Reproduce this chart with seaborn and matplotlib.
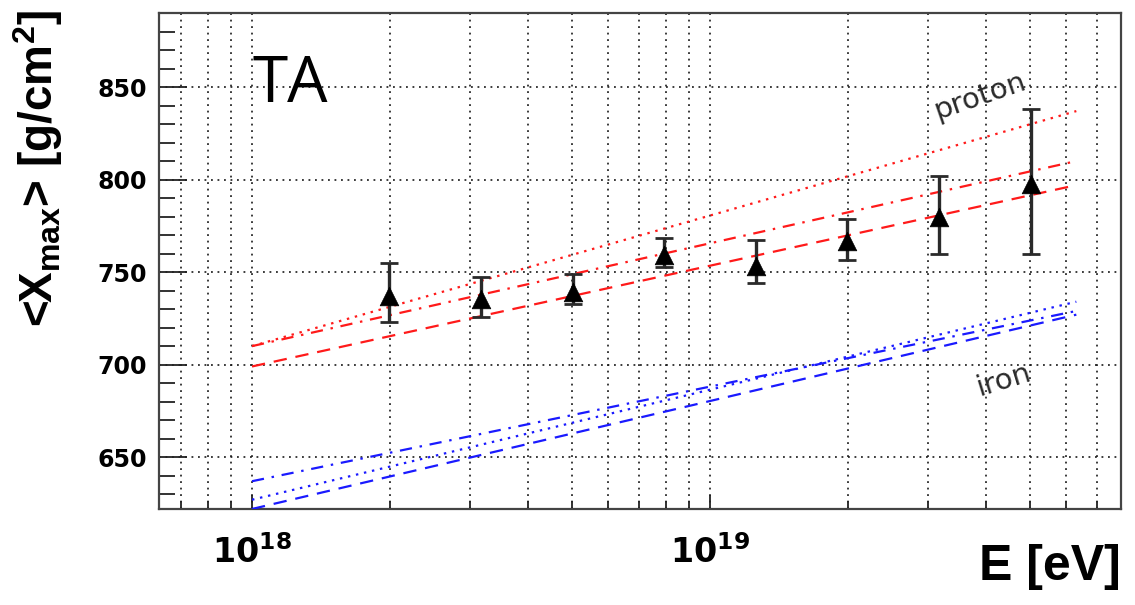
import numpy as np
import pandas as pd
import seaborn as sns
import matplotlib
matplotlib.use("Agg")
import matplotlib.pyplot as plt
from matplotlib.ticker import LogLocator, MultipleLocator, NullFormatter, FixedLocator

# ---- data ----
log_e = [18.3, 18.5, 18.7, 18.9, 19.1, 19.3, 19.5, 19.7]
xmax_mean = [737.0, 735.5, 739.0, 759.0, 753.5, 767.0, 780.0, 797.5]
xmax_low = [723.0, 726.0, 732.5, 753.0, 744.0, 756.5, 760.0, 760.0]
xmax_high = [755.0, 747.5, 749.0, 768.5, 767.5, 778.5, 802.0, 838.0]

model_log_e = [18.0, 19.8]
proton_dotted = [710.0, 837.0]
proton_dashdot = [710.0, 810.0]
proton_dashed = [699.0, 797.0]
iron_dotted = [627.0, 734.0]
iron_dashdot = [637.0, 729.0]
iron_dashed = [622.0, 727.0]

y_major_ticks = [650, 700, 750, 800, 850]
x_major_ticks = [1e18, 1e19]
x_tick_labels = [r"$\mathbf{10^{18}}$", r"$\mathbf{10^{19}}$"]

# ---- figure ----
sns.set_style("white")
plt.rcParams["font.family"] = ["DejaVu Sans"]
plt.rcParams["mathtext.fontset"] = "custom"
plt.rcParams["mathtext.rm"] = "Liberation Sans"
plt.rcParams["mathtext.bf"] = "Liberation Sans:bold"
plt.rcParams["mathtext.default"] = "bf"
plt.rcParams["text.color"] = "black"

fig = plt.figure(figsize=(11.35, 6.05), dpi=100)
ax = fig.add_axes([0.1405, 0.1587, 0.8472, 0.8198])
ax.set_xscale("log")

energy = [10 ** v for v in log_e]
model_energy = [10 ** v for v in model_log_e]

ls_dotted = (0, (1.1, 2.6))
ls_dashdot = (0, (5.5, 3.5, 1.1, 3.5))
ls_dashed = (0, (6, 4))
models = [
    (proton_dotted, "#ff1a1a", ls_dotted),
    (proton_dashdot, "#ff1a1a", ls_dashdot),
    (proton_dashed, "#ff1a1a", ls_dashed),
    (iron_dotted, "#1a1aff", ls_dotted),
    (iron_dashdot, "#1a1aff", ls_dashdot),
    (iron_dashed, "#1a1aff", ls_dashed),
]
for vals, col, ls in models:
    sns.lineplot(x=model_energy, y=vals, ax=ax, color=col, linestyle=ls,
                 linewidth=1.6, zorder=3)

mean = np.array(xmax_mean)
yerr = [mean - np.array(xmax_low), np.array(xmax_high) - mean]
ax.errorbar(energy, mean, yerr=yerr, fmt="none", ecolor="#2a2a2a",
            elinewidth=2.4, capsize=6.5, capthick=2.0, zorder=4)
sns.scatterplot(x=energy, y=xmax_mean, ax=ax, marker="^", s=180,
                color="black", edgecolor="black", linewidth=0.5, zorder=5)

# ---- axes ----
ax.set_xlim(6.28e17, 7.9e19)
ax.set_ylim(622, 890)

ax.xaxis.set_major_locator(FixedLocator(x_major_ticks))
ax.set_xticklabels(x_tick_labels)
ax.xaxis.set_minor_locator(LogLocator(base=10, subs=np.arange(2, 10), numticks=20))
ax.xaxis.set_minor_formatter(NullFormatter())
ax.yaxis.set_major_locator(FixedLocator(y_major_ticks))
ax.yaxis.set_minor_locator(MultipleLocator(10))

ax.grid(True, which="both", axis="x", color="#1a1a1a", linestyle=(0, (1.1, 2.8)), linewidth=1.2)
ax.grid(True, which="major", axis="y", color="#1a1a1a", linestyle=(0, (1.1, 2.8)), linewidth=1.2)
ax.set_axisbelow(True)

ax.tick_params(axis="both", which="both", direction="in", top=False, right=False,
               left=True, bottom=True, color="#222222", width=1.3,
               labelcolor="black")
ax.tick_params(axis="y", which="major", length=20, pad=9, labelsize=17)
ax.tick_params(axis="y", which="minor", length=11.5)
ax.tick_params(axis="x", which="major", length=10, pad=19, labelsize=24)
ax.tick_params(axis="x", which="minor", length=5.5)
for lab in ax.get_yticklabels():
    lab.set_fontweight("bold")
for lab in ax.get_xticklabels():
    lab.set_math_fontfamily("dejavusans")

for sp in ax.spines.values():
    sp.set_linewidth(1.6)
    sp.set_color("#444444")

ax.set_ylabel(r"<X$_{max}$> [g/cm$^{2}$]", fontsize=33, fontweight="bold",
              family="Liberation Sans", color="black", loc="top")
ax.yaxis.set_label_coords(-0.098, 1.006)
ax.set_xlabel("E [eV]", fontsize=36, fontweight="bold", family="Liberation Sans",
              color="black", loc="right")
ax.xaxis.set_label_coords(1.0, -0.07)
ax.xaxis.label.set_va("top")

ax.text(1.005e18, 851, "TA", fontsize=46, ha="left", va="center",
        family="Open Sans", color="black")
ax.text(3.88e19, 845, "proton", fontsize=21, ha="center", va="center",
        rotation=19, color="#2a2a2a")
ax.text(4.38e19, 691.5, "iron", fontsize=21, ha="center", va="center",
        rotation=17, color="#2a2a2a")

fig.savefig("out.png", dpi=100)
